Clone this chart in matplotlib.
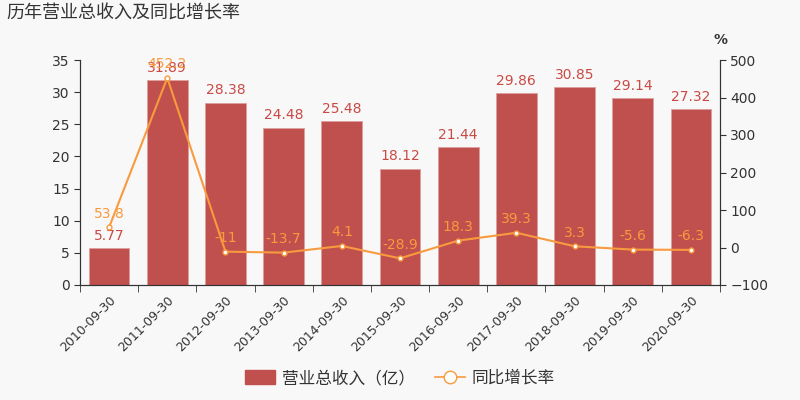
import numpy as np
import matplotlib.pyplot as plt
from matplotlib.lines import Line2D
from matplotlib.patches import FancyBboxPatch

plt.rcParams['font.family'] = ['DejaVu Sans', 'Noto Sans CJK SC']

# Data
tahun = ['2010-09-30', '2011-09-30', '2012-09-30', '2013-09-30', '2014-09-30',
         '2015-09-30', '2016-09-30', '2017-09-30', '2018-09-30', '2019-09-30',
         '2020-09-30']
pendapatan = [5.77, 31.89, 28.38, 24.48, 25.48, 18.12, 21.44, 29.86, 30.85, 29.14, 27.32]
pertumbuhan = [53.8, 452.2, -11, -13.7, 4.1, -28.9, 18.3, 39.3, 3.3, -5.6, -6.3]

warna_bar = '#c0504d'
warna_garis = '#f89a3e'
bg = '#f8f8f8'

fig = plt.figure(figsize=(8, 4), dpi=100, facecolor=bg)
ax = fig.add_axes([0.1, 0.2875, 0.8, 0.5625], facecolor=bg)
ax2 = ax.twinx()

x = np.arange(len(tahun))
ax.bar(x, pendapatan, width=0.7, color=warna_bar, edgecolor='#dba09e', linewidth=0.6, zorder=2)
for xi, v in zip(x, pendapatan):
    ax.text(xi, v + 0.8, f'{v:g}', ha='center', va='bottom', color='#c94a45', fontsize=10)

ax2.plot(x, pertumbuhan, color=warna_garis, linewidth=1.5, marker='o', markersize=3.5,
         markerfacecolor='white', markeredgecolor=warna_garis, zorder=3)
for xi, v in zip(x, pertumbuhan):
    ax2.text(xi, v + 18, f'{v:g}', ha='center', va='bottom', color=warna_garis, fontsize=10)

ax.set_xlim(-0.5, len(tahun) - 0.5)
ax.set_ylim(0, 35)
ax.set_yticks(range(0, 36, 5))
ax2.set_ylim(-100, 500)
ax2.set_yticks(range(-100, 501, 100))

ax.set_xticks(x)
ax.set_xticklabels(tahun, rotation=45, ha='right', rotation_mode='anchor', fontsize=9)
ax.set_xticks(np.arange(-0.5, len(tahun), 1), minor=True)
ax.tick_params(axis='x', which='major', length=0, pad=6)
ax.tick_params(axis='x', which='minor', length=5, color='#333333')

for a in (ax, ax2):
    a.spines['top'].set_visible(False)
    for s in ('left', 'right', 'bottom'):
        a.spines[s].set_color('#333333')
    a.tick_params(axis='y', labelsize=10, colors='#333333', length=4)
ax.tick_params(axis='x', colors='#333333')
ax2.set_zorder(ax.get_zorder() + 1)
ax2.patch.set_visible(False)

ax2.text(1.0, 1.06, '%', transform=ax2.transAxes, ha='center', va='bottom',
         fontsize=10, color='#333333', fontweight='bold')

fig.text(0.008, 0.965, '历年营业总收入及同比增长率', ha='left', va='center',
         fontsize=13, color='#333333')

# Legend
h_bar = FancyBboxPatch((0, 0), 1, 1, boxstyle='round,pad=0,rounding_size=0.3',
                       facecolor=warna_bar, edgecolor=warna_bar)
h_line = Line2D([0], [0], color=warna_garis, linewidth=1.2, marker='o', markersize=9,
                markerfacecolor='white', markeredgecolor=warna_garis)
fig.legend([h_bar, h_line], ['营业总收入（亿）', '同比增长率'], loc='lower center',
           bbox_to_anchor=(0.5, -0.005), ncol=2, frameon=False, fontsize=12,
           handlelength=1.8, handleheight=0.9, columnspacing=1.2, handletextpad=0.4,
           labelcolor='#333333')

plt.savefig('out.png', dpi=100, facecolor=bg)
